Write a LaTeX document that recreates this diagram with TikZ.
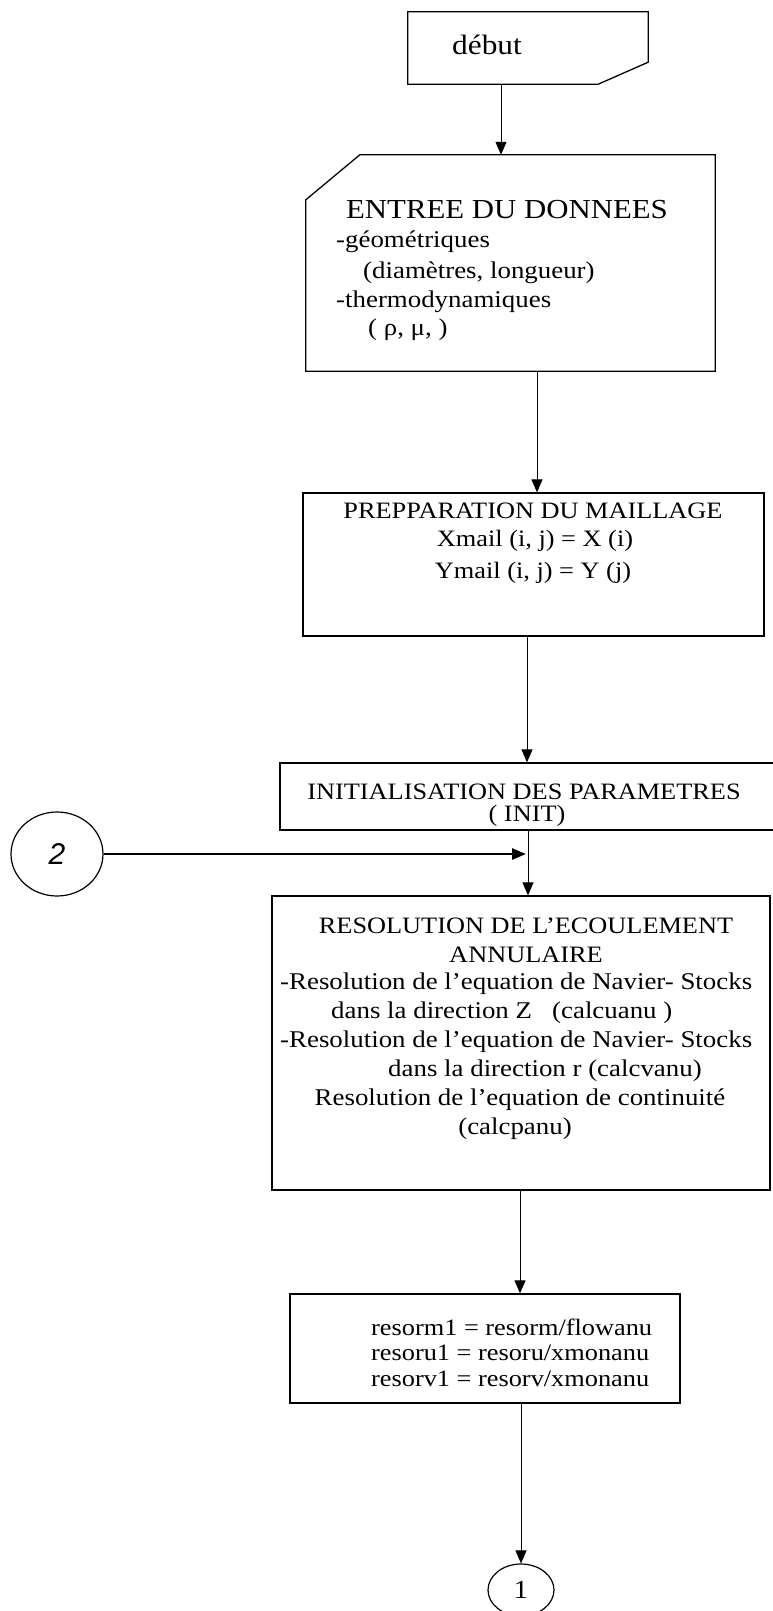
\documentclass[tikz,border=0pt]{standalone}
\usepackage{fontspec}
\setmainfont{Liberation Serif}[FakeStretch=1.12]
\newfontfamily\handfont{Liberation Sans}
\usetikzlibrary{arrows.meta,calc,shapes.geometric}
\begin{document}
\begin{tikzpicture}[x=1pt,y=-1pt,
  flow/.style={-{Triangle[length=13pt,width=11pt]}, line width=1pt},
  frame/.style={draw, line width=1.3pt, inner sep=0pt, rectangle},
  shell/.style={inner sep=0pt, rectangle},
  txt/.style={inner sep=0pt, font=\fontsize{23.5}{28}\selectfont},
  body/.style={inner sep=0pt, font=\fontsize{24}{28}\selectfont},
  sub/.style={inner sep=0pt, anchor=west, font=\fontsize{24}{30}\selectfont},
  conn/.style={draw, ellipse, line width=1.2pt, inner sep=0pt},
]
\useasboundingbox (0,0) rectangle (772,1611);
\fill[white] (0,0) rectangle (772,1611);

% debut
\node[shell, minimum width=240pt, minimum height=72pt] (debut) at (528,48) {};
\draw[line width=1.3pt] (debut.north west) -- (debut.north east)
  -- ($(debut.south east)+(0,-22)$) -- ($(debut.south east)+(-50,0)$)
  -- (debut.south west) -- cycle;
\node[txt, font=\fontsize{28}{32}\selectfont] (tdebut) at (487,45) {début};

% entree
\node[shell, minimum width=409pt, minimum height=216pt] (entree) at (510.5,263) {};
\draw[line width=1.3pt] ($(entree.north west)+(54,0)$) -- (entree.north east)
  -- (entree.south east) -- (entree.south west)
  -- ($(entree.north west)+(0,45)$) -- cycle;
\node[txt, font=\fontsize{27.5}{32}\selectfont] (t1) at (507,210) {ENTREE DU DONNEES};
\node[sub] (t2) at (336,242) {-géométriques};
\node[sub] (t3) at (363,273) {(diamètres, longueur)};
\node[sub] (t4) at (336,302) {-thermodynamiques};
\node[sub] (t5) at (368,330) {( ρ, μ, )};

% preparation
\node[frame, minimum width=461pt, minimum height=143pt] (prep) at (533.5,564.5) {};
\node[txt] (p1) at (533,511) {PREPPARATION DU MAILLAGE};
\node[txt] (p2) at (535,541) {Xmail (i, j) = X (i)};
\node[txt] (p3) at (533,573) {Ymail (i, j) = Y (j)};

% init
\node[frame, minimum width=496pt, minimum height=67pt] (init) at (528,796.5) {};
\node[txt] (i1) at (524,792) {INITIALISATION DES PARAMETRES};
\node[txt] (i2) at (527,816) {( INIT)};

% connector 2
\node[conn, minimum width=92pt, minimum height=84pt] (c2) at (57,854) {\handfont\itshape\fontsize{30}{34}\selectfont 2};
\coordinate (j) at (526,854);

% resolution
\node[frame, minimum width=498pt, minimum height=294pt] (res) at (521,1043) {};
\node[txt] (r1) at (526,926) {RESOLUTION DE L’ECOULEMENT};
\node[txt] (r2) at (526,955) {ANNULAIRE};
\node[body, anchor=west] (r3) at (280,984) {-Resolution de l’equation de Navier- Stocks};
\node[body, anchor=west] (r4) at (331,1013) {dans la direction Z \ \ (calcuanu )};
\node[body, anchor=west] (r5) at (280,1042) {-Resolution de l’equation de Navier- Stocks};
\node[body, anchor=west] (r6) at (388,1071) {dans la direction r (calcvanu)};
\node[body] (r7) at (520,1100) {Resolution de l’equation de continuité};
\node[body] (r8) at (515,1129) {(calcpanu)};

% resorm
\node[frame, minimum width=390pt, minimum height=109pt] (resorm) at (485,1348.5) {};
\node[txt, anchor=west] (s1) at (371,1327) {resorm1 = resorm/flowanu};
\node[txt, anchor=west] (s2) at (371,1353) {resoru1 = resoru/xmonanu};
\node[txt, anchor=west] (s3) at (371,1379) {resorv1 = resorv/xmonanu};

% connector 1
\node[conn, minimum width=66pt, minimum height=52pt] (c1) at (521,1590) {\fontsize{26}{30}\selectfont 1};

% connectors
\draw[flow] ([xshift=-27pt]debut.south) -- ([xshift=-27pt]debut.south |- entree.north);
\draw[flow] ([xshift=26.5pt]entree.south) -- ([xshift=26.5pt]entree.south |- prep.north);
\draw[flow] ([xshift=-6.5pt]prep.south) -- ([xshift=-6.5pt]prep.south |- init.north);
\draw[flow] (init.south) -- (init.south |- res.north);
\draw[-{Triangle[length=14pt,width=11pt]}, line width=2.6pt] (c2.east) -- (j);
\draw[flow] ([xshift=35pt]resorm.south |- res.south) -- ([xshift=35pt]resorm.north);
\draw[flow] ([xshift=36pt]resorm.south) -- (c1.north);
\end{tikzpicture}
\end{document}
